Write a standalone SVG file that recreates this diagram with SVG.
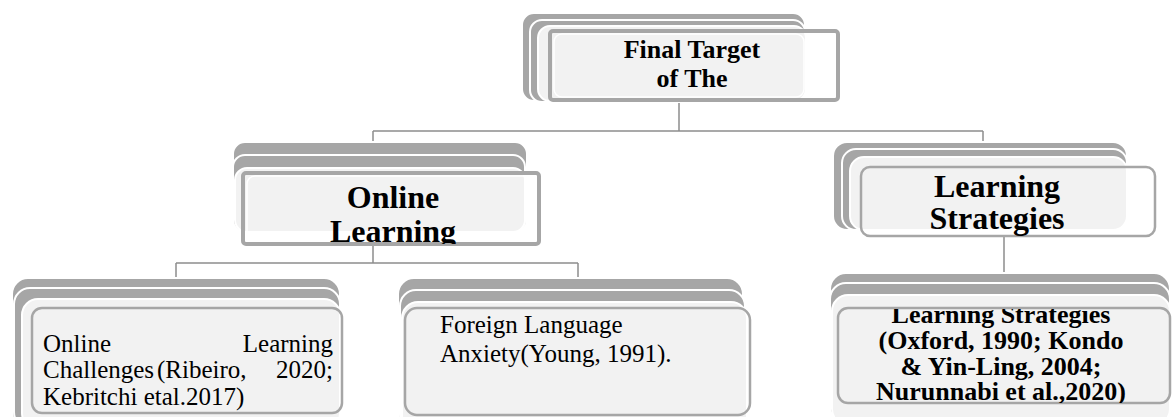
<svg xmlns="http://www.w3.org/2000/svg" width="1176" height="417" viewBox="0 0 1176 417">
<style>
.bk{fill:#a6a6a6;stroke:#ffffff;stroke-width:2}
.lt{fill:#f2f2f2;stroke:#ffffff;stroke-width:2}
.sq{fill:none;stroke:#a6a6a6;stroke-width:4}
.rd{fill:none;stroke:#a6a6a6;stroke-width:2.5}
.in{fill:none;stroke:#ffffff;stroke-width:1.5}
.hb{font-family:"Liberation Serif","Times New Roman",serif;font-weight:bold;fill:#000;text-anchor:middle}
.tx{font-family:"Liberation Serif","Times New Roman",serif;font-size:25px;fill:#000}
.cn line{stroke:#8c8c8c;stroke-width:1.5}
</style>
<defs>
<clipPath id="cOL"><rect x="243" y="173" width="296" height="71"/></clipPath>
<clipPath id="cLS"><rect x="861" y="167" width="294" height="69"/></clipPath>
<clipPath id="cLS2"><rect x="838" y="309" width="332" height="94"/></clipPath>
</defs>
<rect width="1176" height="417" fill="#ffffff"/>
<g id="connectors" class="cn">
<line x1="679" y1="101" x2="679" y2="131"/>
<line x1="373" y1="131" x2="983" y2="131"/>
<line x1="373" y1="131" x2="373" y2="142"/>
<line x1="983" y1="131" x2="983" y2="142"/>
<line x1="373" y1="245" x2="373" y2="263"/>
<line x1="176" y1="263" x2="578" y2="263"/>
<line x1="176" y1="263" x2="176" y2="278"/>
<line x1="578" y1="263" x2="578" y2="278"/>
<line x1="1004" y1="237" x2="1004" y2="273"/>
</g>
<g id="n-final">
<rect class="bk" x="522" y="13" width="283" height="88" rx="12"/>
<rect class="bk" x="530" y="20" width="275" height="82" rx="12"/>
<rect class="lt" x="538" y="26" width="268" height="75" rx="12"/>
<rect class="sq" x="550" y="31" width="288" height="69" rx="3"/>
<rect class="in" x="554" y="34" width="250" height="63" rx="8"/>
<text class="hb" font-size="26" x="692" y="58">Final Target</text>
<text class="hb" font-size="26" x="692" y="87">of The</text>
</g>
<g id="n-online">
<rect class="bk" x="233" y="142" width="294" height="90" rx="12"/>
<rect class="bk" x="233" y="155" width="292" height="77" rx="12"/>
<rect class="lt" x="235" y="168" width="290" height="64" rx="12"/>
<rect class="sq" x="243" y="173" width="296" height="71" rx="3"/>
<rect class="in" x="247" y="176" width="288" height="65" rx="8"/>
<g clip-path="url(#cOL)">
<text class="hb" font-size="32" x="393" y="208">Online</text>
<text class="hb" font-size="32" x="393" y="242">Learning</text>
</g>
</g>
<g id="n-strategies">
<rect class="bk" x="833" y="142" width="294" height="88" rx="14"/>
<rect class="bk" x="842" y="149" width="285" height="81" rx="14"/>
<rect class="lt" x="850" y="157" width="277" height="73" rx="14"/>
<rect class="rd" x="861" y="167" width="294" height="69" rx="9"/>
<g clip-path="url(#cLS)">
<text class="hb" font-size="32" x="997" y="197">Learning</text>
<text class="hb" font-size="32" x="997" y="229">Strategies</text>
</g>
</g>
<g id="n-challenges">
<rect class="bk" x="12" y="278" width="328" height="150" rx="16"/>
<rect class="bk" x="14" y="288" width="326" height="140" rx="16"/>
<rect class="lt" x="22" y="299" width="318" height="130" rx="16"/>
<rect class="rd" x="32" y="308" width="310" height="105" rx="10"/>
<text class="tx" x="43" y="352">Online</text>
<text class="tx" x="333" y="352" text-anchor="end">Learning</text>
<text class="tx" x="43" y="378">Challenges<tspan x="157">(Ribeiro,</tspan></text>
<text class="tx" x="333" y="378" text-anchor="end">2020;</text>
<text class="tx" x="43" y="405">Kebritchi etal.2017)</text>
</g>
<g id="n-anxiety">
<rect class="bk" x="398" y="278" width="345" height="150" rx="16"/>
<rect class="bk" x="400" y="290" width="345" height="140" rx="16"/>
<rect class="lt" x="402" y="302" width="345" height="130" rx="16"/>
<rect class="rd" x="405" y="308" width="345" height="107" rx="12"/>
<text class="tx" x="440" y="333">Foreign Language</text>
<text class="tx" x="440" y="362">Anxiety(Young, 1991).</text>
</g>
<g id="n-lsref">
<rect class="bk" x="830" y="273" width="340" height="150" rx="16"/>
<rect class="bk" x="830" y="283" width="340" height="140" rx="16"/>
<rect class="lt" x="832" y="295" width="338" height="130" rx="16"/>
<rect class="rd" x="838" y="308" width="332" height="95" rx="10"/>
<g clip-path="url(#cLS2)">
<text class="hb" font-size="26" x="1001" y="323">Learning Strategies</text>
<text class="hb" font-size="26" x="1001" y="349">(Oxford, 1990; Kondo</text>
<text class="hb" font-size="26" x="1001" y="375">&amp; Yin-Ling, 2004;</text>
<text class="hb" font-size="26" x="1001" y="400">Nurunnabi et al.,2020)</text>
</g>
</g>
</svg>
